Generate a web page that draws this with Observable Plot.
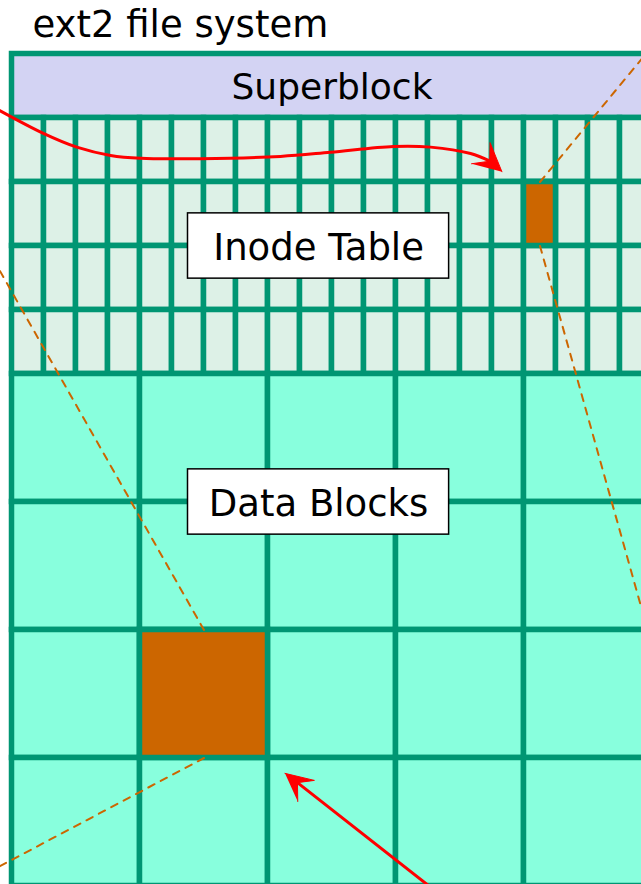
<!DOCTYPE html>
<html><head><meta charset="utf-8">
<script src="https://cdn.jsdelivr.net/npm/d3@7"></script>
<script src="https://cdn.jsdelivr.net/npm/@observablehq/plot@0.6"></script>
<style>html,body{margin:0;padding:0;background:#fff;overflow:hidden}</style>
</head><body><div id="chart"></div>
<script>
// ---- content (grid units: 1 unit = one inode column width) ----
const title = "ext2 file system";
const regionNames = ["Superblock", "Inode Table", "Data Blocks"];
const inodeColumns = d3.range(20);   // visible inode columns
const inodeRows = d3.range(4);       // inode table rows
const dataColumns = d3.range(5);     // visible data block columns
const dataRows = d3.range(4);        // visible data block rows
const selectedInode = {col: 16, row: 1};
const selectedBlock = {col: 1, row: 2};

// curved pointer (inode table -> inode)
const curveX = [-0.67, 0.98, 2.05, 3.08, 4.02, 5.89, 8.39, 9.95, 11.92, 13.08, 14.33, 14.94];
const curveY = [1.61, 2.48, 2.92, 3.17, 3.26, 3.27, 3.20, 3.07, 2.89, 2.91, 3.11, 3.35];
const curveHeadX = [15.31, 14.94, 14.93, 14.36];
const curveHeadY = [3.68, 2.77, 3.35, 3.43];
// straight pointer (-> data block)
const straightX = [13.39, 8.92];
const straightY = [26.28, 22.77];
const straightHeadX = [8.53, 9.45, 8.92, 8.93];
const straightHeadY = [22.48, 22.70, 22.77, 23.36];
// dashed zoom guides [x1, y1, x2, y2]
const guides = [
  [16.5, 4, 20.3, -0.6],
  [16.5, 6, 20.48, 20.2],
  [6, 18, -0.98, 5.72],
  [6, 22, -0.98, 25.7]
];

// ---- styles ----
const GRID = "#009673", SUPER = "#d3d3f3", INODE = "#ddf1e7", DATA = "#88ffdd", HIL = "#cc6600", RED = "#ff0000";
const W = 641, H = 884, U = 32, OX = 11.5, OY = 53.5;

const inodeCells = inodeRows.flatMap(r => inodeColumns.map(c => ({x1: c, x2: c + 1, y1: 2 + 2 * r, y2: 4 + 2 * r})));
const dataCells = dataRows.flatMap(r => dataColumns.map(c => ({x1: 4 * c, x2: 4 * c + 4, y1: 10 + 4 * r, y2: 14 + 4 * r})));
const superCell = [{x1: 0, x2: 20, y1: 0, y2: 2}];
const hilCells = [
  {x1: selectedInode.col, x2: selectedInode.col + 1, y1: 2 + 2 * selectedInode.row, y2: 4 + 2 * selectedInode.row},
  {x1: 4 * selectedBlock.col, x2: 4 * selectedBlock.col + 4, y1: 10 + 4 * selectedBlock.row, y2: 14 + 4 * selectedBlock.row}
];
const guideSegs = guides.flatMap((g, i) => [{x: g[0], y: g[1], k: i}, {x: g[2], y: g[3], k: i}]);
const curvePts = curveX.map((x, i) => ({x, y: curveY[i]}));
const curveHead = curveHeadX.map((x, i) => ({x, y: curveHeadY[i]}));
const straightPts = straightX.map((x, i) => ({x, y: straightY[i]}));
const straightHead = straightHeadX.map((x, i) => ({x, y: straightHeadY[i]}));
const boxes = [{cx: 9.58, cy: 6, name: regionNames[1]}, {cx: 9.58, cy: 14, name: regionNames[2]}];
const superLabel = [{x: 10, y: 1, name: regionNames[0]}];

const rectOpts = {x1: "x1", x2: "x2", y1: "y1", y2: "y2", inset: 0, stroke: GRID, strokeWidth: 5.5};

const chart = Plot.plot({
  width: W, height: H, margin: 0,
  x: {domain: [-OX / U, (W - OX) / U], range: [0, W], axis: null},
  y: {domain: [-OY / U, (H - OY) / U], range: [0, H], axis: null},
  style: {fontFamily: "'DejaVu Sans', Verdana, sans-serif", background: "white"},
  marks: [
    Plot.rect(superCell, {...rectOpts, fill: SUPER}),
    Plot.rect(inodeCells, {...rectOpts, fill: INODE}),
    Plot.rect(dataCells, {...rectOpts, fill: DATA}),
    Plot.rect(hilCells, {...rectOpts, fill: HIL}),
    Plot.line(guideSegs, {x: "x", y: "y", z: "k", stroke: HIL, strokeWidth: 2, strokeDasharray: "7,7"}),
    Plot.rect(boxes, {x1: d => d.cx - 4.08, x2: d => d.cx + 4.08, y1: d => d.cy - 1.02, y2: d => d.cy + 1.02, fill: "white", stroke: "black", strokeWidth: 1.5}),
    Plot.text(superLabel, {x: "x", y: "y", text: "name", fontSize: 36, dy: 1, fill: "black"}),
    Plot.text(boxes, {x: "cx", y: "cy", text: "name", fontSize: 37, dy: 2, fill: "black"}),
    Plot.text([title], {frameAnchor: "top-left", textAnchor: "start", lineAnchor: "top", dx: 32, dy: 10, fontSize: 37, fill: "black"}),
    Plot.line(curvePts, {x: "x", y: "y", curve: "catmull-rom", stroke: RED, strokeWidth: 3}),
    Plot.line(curveHead, {x: "x", y: "y", fill: RED, stroke: RED, strokeWidth: 1, strokeLinejoin: "miter"}),
    Plot.line(straightPts, {x: "x", y: "y", stroke: RED, strokeWidth: 3}),
    Plot.line(straightHead, {x: "x", y: "y", fill: RED, stroke: RED, strokeWidth: 1, strokeLinejoin: "miter"})
  ]
});
document.getElementById("chart").appendChild(chart);
</script>
</body></html>
